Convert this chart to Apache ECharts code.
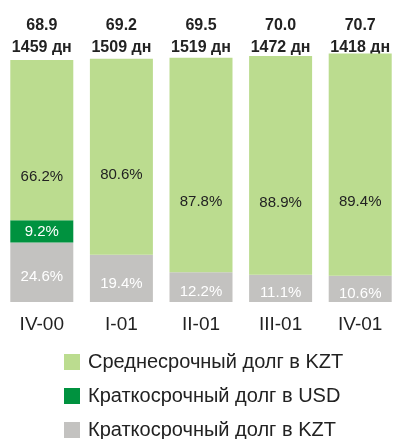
<!DOCTYPE html>
<html>
<head>
<meta charset="utf-8">
<script src="https://cdn.jsdelivr.net/npm/echarts@6/dist/echarts.min.js"></script>
<style>
  html, body { margin: 0; padding: 0; background: #fff; }
  #chart { width: 400px; height: 439px; }
</style>
</head>
<body>
<div id="chart"></div>
<script>
  // данные
  const quarters = ['IV-00', 'I-01', 'II-01', 'III-01', 'IV-01']
  const totals = [68.9, 69.2, 69.5, 70.0, 70.7]
  const days = [1459, 1509, 1519, 1472, 1418]
  const midKzt = [66.2, 80.6, 87.8, 88.9, 89.4]
  const shortUsd = [9.2, 0, 0, 0, 0]
  const shortKzt = [24.6, 19.4, 12.2, 11.1, 10.6]

  const names = ['Среднесрочный долг в KZT', 'Краткосрочный долг в USD', 'Краткосрочный долг в KZT']
  const font = 'Liberation Sans, Arial, sans-serif'

  // высота сегмента = доля * общий объём
  function scaled (pcts) {
    return pcts.map((p, i) => +(p * totals[i] / 100).toFixed(3))
  }

  function pctLabel (pcts) {
    return (params) => pcts[params.dataIndex] ? pcts[params.dataIndex].toFixed(1) + '%' : ''
  }

  const chart = echarts.init(document.getElementById('chart'))

  const midData = scaled(midKzt).map((v, i) => {
    // подпись во втором столбце стоит выше
    if (i === 1) return { value: v, label: { offset: [0, 18] } }
    return v
  })

  const option = {
    animation: false,
    backgroundColor: '#fff',
    grid: {
      left: 2,
      width: 405,
      top: 49,
      bottom: 137
    },
    legend: {
      orient: 'vertical',
      left: 64,
      top: 352,
      height: 120,
      padding: 0,
      itemWidth: 16,
      itemHeight: 16,
      itemGap: 14,
      icon: 'rect',
      selectedMode: false,
      data: names,
      textStyle: {
        fontFamily: font,
        fontSize: 20,
        lineHeight: 20,
        color: '#222',
        padding: [0, 0, 0, 3]
      }
    },
    xAxis: [
      {
        type: 'category',
        data: quarters,
        axisLine: { show: false },
        axisTick: { show: false },
        axisLabel: {
          margin: 13,
          fontFamily: font,
          fontSize: 19,
          color: '#222'
        }
      },
      {
        type: 'category',
        position: 'top',
        data: quarters,
        axisLine: { show: false },
        axisTick: { show: false },
        axisLabel: {
          margin: -10,
          fontFamily: font,
          fontSize: 16,
          fontWeight: 'bold',
          lineHeight: 22,
          color: '#222',
          formatter: (v, i) => totals[i].toFixed(1) + '\n' + days[i] + ' дн'
        }
      }
    ],
    yAxis: {
      type: 'value',
      min: 0,
      max: 72,
      show: false
    },
    series: [
      {
        name: names[2],
        type: 'bar',
        stack: 'debt',
        barWidth: 63,
        data: scaled(shortKzt),
        itemStyle: { color: '#c3c2c0' },
        label: {
          show: true,
          position: 'inside',
          offset: [0, 5],
          fontFamily: font,
          fontSize: 15,
          color: '#fff',
          formatter: pctLabel(shortKzt)
        }
      },
      {
        name: names[1],
        type: 'bar',
        stack: 'debt',
        barWidth: 63,
        data: scaled(shortUsd),
        itemStyle: { color: '#00923f' },
        label: {
          show: true,
          position: 'inside',
          offset: [0, 1],
          fontFamily: font,
          fontSize: 15,
          color: '#fff',
          formatter: pctLabel(shortUsd)
        }
      },
      {
        name: names[0],
        type: 'bar',
        stack: 'debt',
        barWidth: 63,
        data: midData,
        itemStyle: { color: '#bbdc8f' },
        label: {
          show: true,
          position: 'inside',
          offset: [0, 37],
          fontFamily: font,
          fontSize: 15,
          color: '#222',
          formatter: pctLabel(midKzt)
        }
      }
    ]
  }

  chart.setOption(option)
</script>
</body>
</html>
